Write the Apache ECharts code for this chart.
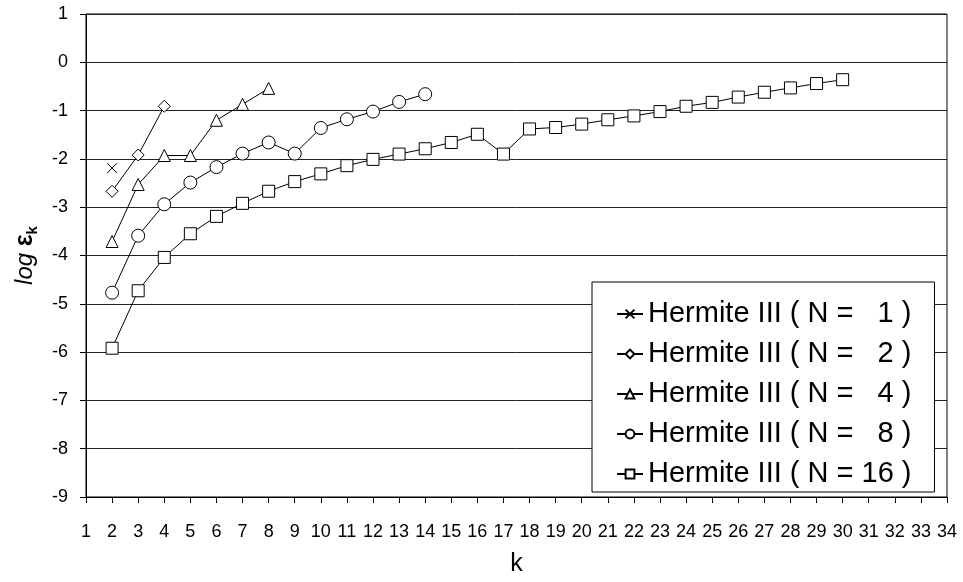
<!DOCTYPE html>
<html>
<head>
<meta charset="utf-8">
<title>Hermite III error by k</title>
<script src="https://cdn.jsdelivr.net/npm/echarts@6/dist/echarts.min.js"></script>
<style>
  html, body { margin: 0; padding: 0; background: #fff; }
  #chart { width: 963px; height: 582px; }
</style>
</head>
<body>
<div id="chart"></div>
<script>
// k positions on the horizontal axis (tick labels 1..34)
const kTicks = [1, 2, 3, 4, 5, 6, 7, 8, 9, 10, 11, 12, 13, 14, 15, 16, 17,
                18, 19, 20, 21, 22, 23, 24, 25, 26, 27, 28, 29, 30, 31, 32, 33, 34];

// log(eps_k) for each N, starting at k = 2
const firstK = 2;
const logErrN1 = [-2.19];
const logErrN2 = [-2.67, -1.92, -0.91];
const logErrN4 = [-3.71, -2.53, -1.93, -1.93, -1.20, -0.87, -0.54];
const logErrN8 = [-4.77, -3.59, -2.94, -2.49, -2.17, -1.89, -1.66, -1.89, -1.36,
                  -1.18, -1.02, -0.82, -0.66];
const logErrN16 = [-5.92, -4.73, -4.04, -3.55, -3.19, -2.92, -2.67, -2.47, -2.31,
                   -2.14, -2.01, -1.90, -1.79, -1.66, -1.49, -1.90, -1.38, -1.35,
                   -1.28, -1.19, -1.11, -1.02, -0.91, -0.83, -0.72, -0.62, -0.53,
                   -0.44, -0.36];

const seriesNames = [
  'Hermite III ( N =   1 )',
  'Hermite III ( N =   2 )',
  'Hermite III ( N =   4 )',
  'Hermite III ( N =   8 )',
  'Hermite III ( N = 16 )'
];

const FONT = '"Liberation Sans", Arial, sans-serif';

function pairs(values) {
  return values.map((v, i) => [kTicks[firstK - 1 + i], v]);
}

function lineSeries(name, values, symbol, size) {
  return {
    type: 'line',
    name: name,
    data: pairs(values),
    symbol: symbol,
    symbolSize: size,
    showAllSymbol: true,
    lineStyle: { color: '#000', width: 1 },
    itemStyle: { color: '#fff', borderColor: '#000', borderWidth: 1 },
    emphasis: { disabled: true },
    z: 3
  };
}

const chart = echarts.init(document.getElementById('chart'), null, { renderer: 'canvas' });

chart.setOption({
  animation: false,
  backgroundColor: '#fff',
  textStyle: { fontFamily: FONT, color: '#000' },
  grid: {
    left: 86, right: 16, top: 14, bottom: 79,
    show: true, borderColor: '#000', borderWidth: 1
  },
  xAxis: {
    type: 'value',
    min: 1, max: 34, interval: 1,
    name: 'k',
    nameLocation: 'middle',
    nameGap: 55,
    nameTextStyle: { fontSize: 25, color: '#000', fontFamily: FONT },
    axisLine: { onZero: false, lineStyle: { color: '#000', width: 1 } },
    axisTick: { show: true, length: 6, lineStyle: { color: '#000' } },
    axisLabel: {
      color: '#000', fontSize: 18, fontFamily: FONT, margin: 26,
      formatter: (v) => String(v)
    },
    splitLine: { show: false }
  },
  yAxis: {
    type: 'value',
    min: -9, max: 1, interval: 1,
    name: '{i|log} {b|ε}{s|k}',
    nameLocation: 'middle',
    nameGap: 46,
    nameTextStyle: {
      fontSize: 24, color: '#000', fontFamily: FONT,
      rich: {
        i: { fontStyle: 'italic', fontSize: 24, fontFamily: FONT, color: '#000' },
        b: { fontWeight: 'bold', fontSize: 25, fontFamily: FONT, color: '#000' },
        s: { fontWeight: 'bold', fontSize: 15, fontFamily: FONT, color: '#000',
             verticalAlign: 'bottom', lineHeight: 30 }
      }
    },
    axisLine: { show: true, lineStyle: { color: '#000', width: 1 } },
    axisTick: { show: true, length: 6, lineStyle: { color: '#000' } },
    axisLabel: { color: '#000', fontSize: 18, fontFamily: FONT, margin: 18 },
    splitLine: { show: true, lineStyle: { color: '#222', width: 1 } }
  },
  legend: {
    orient: 'vertical',
    left: 592, top: 282,
    padding: [17, 23, 3, 24],
    itemGap: 10,
    itemWidth: 26,
    itemHeight: 11,
    borderColor: '#000',
    borderWidth: 1,
    backgroundColor: '#fff',
    selectedMode: false,
    textStyle: { fontSize: 29, lineHeight: 30, color: '#000', fontFamily: FONT },
    data: seriesNames
  },
  series: [
    lineSeries(seriesNames[0], logErrN1, 'path://M0,0L10,10M10,0L0,10', 10),
    lineSeries(seriesNames[1], logErrN2, 'diamond', 12),
    lineSeries(seriesNames[2], logErrN4, 'triangle', 12),
    lineSeries(seriesNames[3], logErrN8, 'circle', 13),
    lineSeries(seriesNames[4], logErrN16, 'rect', 12)
  ]
});
</script>
</body>
</html>
